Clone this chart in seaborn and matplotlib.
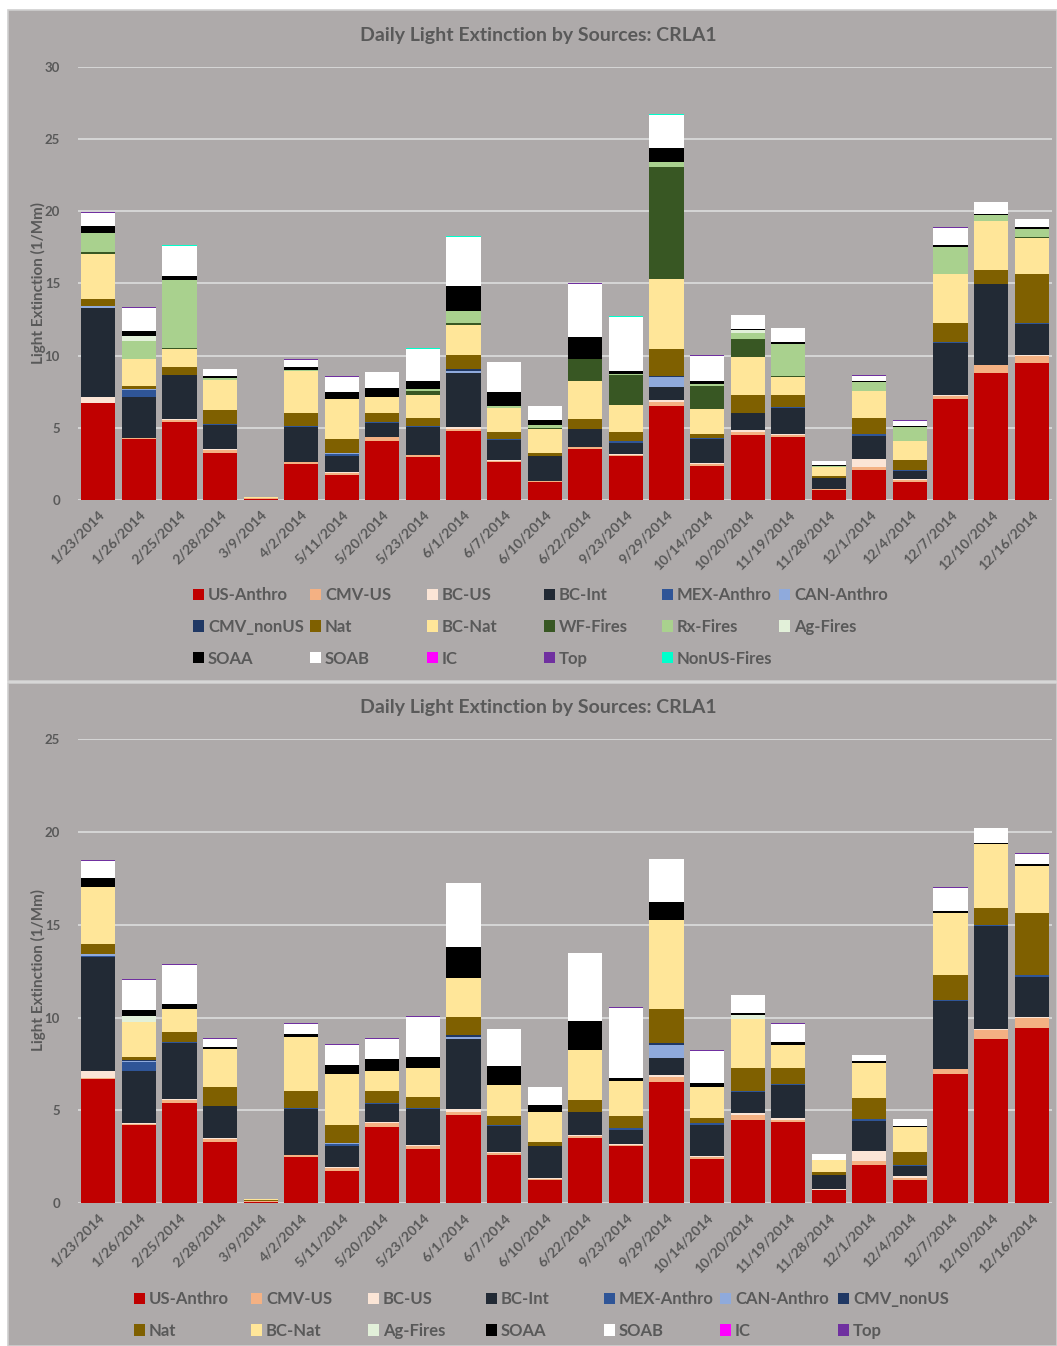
import numpy as np
import pandas as pd
import matplotlib
matplotlib.use("Agg")
import matplotlib.pyplot as plt
import seaborn as sns
from matplotlib.patches import Rectangle, Patch

# ---------------- data ----------------
dates = ["1/23/2014", "1/26/2014", "2/25/2014", "2/28/2014", "3/9/2014", "4/2/2014",
         "5/11/2014", "5/20/2014", "5/23/2014", "6/1/2014", "6/7/2014", "6/10/2014",
         "6/22/2014", "9/23/2014", "9/29/2014", "10/14/2014", "10/20/2014", "11/19/2014",
         "11/28/2014", "12/1/2014", "12/4/2014", "12/7/2014", "12/10/2014", "12/16/2014"]

us_anthro = [6.69, 4.20, 5.42, 3.28, 0.09, 2.47, 1.73, 4.11, 2.95, 4.78, 2.60, 1.27,
             3.53, 3.07, 6.53, 2.38, 4.50, 4.38, 0.69, 2.08, 1.27, 6.97, 8.82, 9.46]
cmv_us = [0.05, 0.06, 0.15, 0.18, 0.03, 0.13, 0.17, 0.23, 0.15, 0.14, 0.12, 0.04,
          0.12, 0.07, 0.27, 0.12, 0.23, 0.12, 0.05, 0.18, 0.11, 0.25, 0.53, 0.53]
bc_us = [0.37, 0.06, 0.03, 0.07, 0.00, 0.02, 0.06, 0.02, 0.05, 0.16, 0.05, 0.03,
         0.04, 0.04, 0.10, 0.04, 0.12, 0.07, 0.04, 0.56, 0.07, 0.02, 0.02, 0.03]
bc_int = [6.16, 2.83, 3.03, 1.69, 0.02, 2.46, 1.11, 0.99, 1.93, 3.74, 1.38, 1.73,
          1.20, 0.79, 0.90, 1.68, 1.15, 1.78, 0.77, 1.63, 0.58, 3.65, 5.58, 2.17]
mex_anthro = [0.03, 0.47, 0.03, 0.02, 0.00, 0.03, 0.10, 0.04, 0.07, 0.00, 0.08, 0.00,
              0.02, 0.09, 0.00, 0.08, 0.03, 0.07, 0.00, 0.09, 0.04, 0.03, 0.03, 0.09]
can_anthro = [0.15, 0.05, 0.00, 0.00, 0.00, 0.00, 0.06, 0.03, 0.00, 0.13, 0.00, 0.00,
              0.00, 0.00, 0.70, 0.00, 0.00, 0.00, 0.00, 0.00, 0.00, 0.00, 0.00, 0.00]
cmv_nonus = [0.00, 0.03, 0.00, 0.00, 0.00, 0.00, 0.00, 0.00, 0.00, 0.10, 0.00, 0.00,
             0.00, 0.00, 0.11, 0.00, 0.00, 0.00, 0.00, 0.00, 0.00, 0.00, 0.00, 0.00]
nat = [0.49, 0.20, 0.57, 1.00, 0.02, 0.91, 0.97, 0.63, 0.55, 0.99, 0.47, 0.21,
       0.67, 0.65, 1.85, 0.27, 1.24, 0.85, 0.11, 1.11, 0.70, 1.36, 0.94, 3.34]
bc_nat = [3.07, 1.86, 1.25, 2.06, 0.05, 2.91, 2.77, 1.10, 1.57, 2.08, 1.65, 1.66,
          2.68, 1.87, 4.82, 1.71, 2.65, 1.27, 0.65, 1.92, 1.34, 3.34, 3.42, 2.54]
wf_fires = [0.18, 0.00, 0.07, 0.00, 0.00, 0.00, 0.00, 0.00, 0.30, 0.11, 0.03, 0.03,
            1.50, 2.05, 7.80, 1.60, 1.20, 0.04, 0.00, 0.00, 0.00, 0.00, 0.00, 0.07]
rx_fires = [1.27, 1.27, 4.67, 0.18, 0.00, 0.05, 0.00, 0.00, 0.09, 0.88, 0.11, 0.23,
            0.00, 0.10, 0.33, 0.16, 0.42, 2.20, 0.07, 0.62, 0.97, 1.87, 0.40, 0.53]
ag_fires = [0.00, 0.32, 0.00, 0.00, 0.00, 0.00, 0.00, 0.00, 0.00, 0.00, 0.00, 0.00,
            0.00, 0.00, 0.00, 0.00, 0.23, 0.00, 0.00, 0.00, 0.00, 0.00, 0.00, 0.00]
soaa = [0.51, 0.35, 0.27, 0.10, 0.00, 0.20, 0.48, 0.63, 0.59, 1.69, 1.02, 0.34,
        1.55, 0.17, 0.97, 0.18, 0.07, 0.16, 0.04, 0.07, 0.05, 0.14, 0.08, 0.12]
soab = [0.92, 1.62, 2.08, 0.47, 0.02, 0.54, 1.09, 1.08, 2.19, 3.41, 2.01, 0.97,
        3.66, 3.77, 2.28, 1.76, 0.97, 0.97, 0.28, 0.33, 0.36, 1.22, 0.78, 0.55]
ic = [0.00, 0.00, 0.00, 0.00, 0.00, 0.00, 0.00, 0.00, 0.00, 0.00, 0.00, 0.00,
      0.00, 0.00, 0.00, 0.00, 0.00, 0.00, 0.00, 0.00, 0.00, 0.00, 0.00, 0.00]
top = [0.03, 0.03, 0.03, 0.03, 0.00, 0.03, 0.03, 0.03, 0.03, 0.03, 0.03, 0.03,
       0.03, 0.03, 0.03, 0.03, 0.03, 0.03, 0.03, 0.03, 0.03, 0.03, 0.03, 0.03]
nonus_fires = [0.03, 0.03, 0.03, 0.00, 0.00, 0.03, 0.03, 0.00, 0.03, 0.03, 0.03, 0.00,
               0.00, 0.03, 0.06, 0.00, 0.00, 0.00, 0.00, 0.00, 0.00, 0.00, 0.00, 0.00]

series_names = ["US-Anthro", "CMV-US", "BC-US", "BC-Int", "MEX-Anthro", "CAN-Anthro",
                "CMV_nonUS", "Nat", "BC-Nat", "WF-Fires", "Rx-Fires", "Ag-Fires",
                "SOAA", "SOAB", "IC", "Top", "NonUS-Fires"]
series_values = [us_anthro, cmv_us, bc_us, bc_int, mex_anthro, can_anthro, cmv_nonus,
                 nat, bc_nat, wf_fires, rx_fires, ag_fires, soaa, soab, ic, top, nonus_fires]
series_colors = ["#C00000", "#F4B183", "#FBE5D6", "#222A35", "#2F5597", "#8FAADC",
                 "#203864", "#7F6000", "#FFE699", "#385723", "#A9D18E", "#E2F0D9",
                 "#000000", "#FFFFFF", "#FF00FF", "#7030A0", "#00FFCC"]

panel2_names = ["US-Anthro", "CMV-US", "BC-US", "BC-Int", "MEX-Anthro", "CAN-Anthro",
                "CMV_nonUS", "Nat", "BC-Nat", "Ag-Fires", "SOAA", "SOAB", "IC", "Top"]

title = "Daily Light Extinction by Sources: CRLA1"
ylabel = "Light Extinction (1/Mm)"

# ---------------- style ----------------
sns.set_theme(style="white")
plt.rcParams["font.family"] = ["Lato", "DejaVu Sans"]

W, H = 1057, 1346
BG = "#AEAAAA"
TXT = "#595959"
GRID = "#D9D9D9"


def fx(p):
    return p / W


def fy(p):
    return 1 - p / H


fig = plt.figure(figsize=(W / 100, H / 100), dpi=100, facecolor="white")
for t, b in [(10, 681), (683, 1346)]:
    fig.patches.append(Rectangle((fx(8), fy(b)), 1 - fx(8), fy(t) - fy(b),
                                 transform=fig.transFigure, facecolor=BG,
                                 edgecolor="#CFCFCF", linewidth=1.2, zorder=-5))

color_of = dict(zip(series_names, series_colors))
values_of = dict(zip(series_names, series_values))

panels = [
    dict(names=series_names, box=(78, 66.7, 1052, 500), ymax=30, title_y=35, ylab_y=283,
         leg_x=[193, 310, 427, 544, 662, 779], leg_top=587, ncol=6),
    dict(names=panel2_names, box=(78, 739, 1052, 1203.3), ymax=25, title_y=707, ylab_y=970,
         leg_x=[134, 251, 368, 486, 604, 720, 838], leg_top=1291, ncol=7),
]

for p in panels:
    l, t, r, b = p["box"]
    ax = fig.add_axes([fx(l), fy(b), fx(r) - fx(l), fy(t) - fy(b)])
    ax.set_facecolor("none")
    names = p["names"]
    df = pd.DataFrame({n: values_of[n] for n in names}, index=dates)
    cum = df.cumsum(axis=1)
    for n in reversed(names):
        sns.barplot(x=dates, y=cum[n].values, order=dates, color=color_of[n],
                    saturation=1, width=0.84, errorbar=None, ax=ax,
                    edgecolor="none", linewidth=0)
    ax.set_xlim(-0.5, len(dates) - 0.5)
    ax.set_ylim(0, p["ymax"])
    ax.set_yticks(range(0, p["ymax"] + 1, 5))
    ax.yaxis.grid(True, color=GRID, linewidth=1.3)
    ax.set_axisbelow(True)
    for s in ax.spines.values():
        s.set_visible(False)
    ax.tick_params(axis="y", length=0, pad=13, labelsize=9.5, labelcolor=TXT)
    for lbl in ax.get_yticklabels():
        lbl.set_fontweight("bold")
    ax.set_xticks(range(len(dates)))
    ax.set_xticklabels(dates, rotation=45, ha="right", rotation_mode="anchor",
                       fontsize=10, fontweight="bold", color=TXT)
    ax.tick_params(axis="x", length=0, pad=6)
    ax.set_xlabel("")
    ax.set_ylabel("")

    fig.text(fx(538), fy(p["title_y"]), title, ha="center", va="center",
             fontsize=14, fontweight="bold", color=TXT)
    fig.text(fx(38), fy(p["ylab_y"]), ylabel, rotation=90, ha="center", va="center",
             fontsize=11, fontweight="bold", color=TXT)

    # legend: row-major layout built as one legend per column
    ncol = p["ncol"]
    rows = [names[i:i + ncol] for i in range(0, len(names), ncol)]
    for j, x in enumerate(p["leg_x"]):
        col = [row[j] for row in rows if j < len(row)]
        handles = [Patch(facecolor=color_of[n], edgecolor="none") for n in col]
        fig.legend(handles=handles, labels=col, loc="upper left",
                   bbox_to_anchor=(fx(x), fy(p["leg_top"])), bbox_transform=fig.transFigure,
                   frameon=False, prop={"weight": "bold", "size": 12}, labelcolor=TXT,
                   handlelength=0.65, handleheight=0.65, handletextpad=0.25,
                   labelspacing=0.95, borderpad=0, borderaxespad=0)

fig.savefig("out.png", dpi=100, facecolor="white")
